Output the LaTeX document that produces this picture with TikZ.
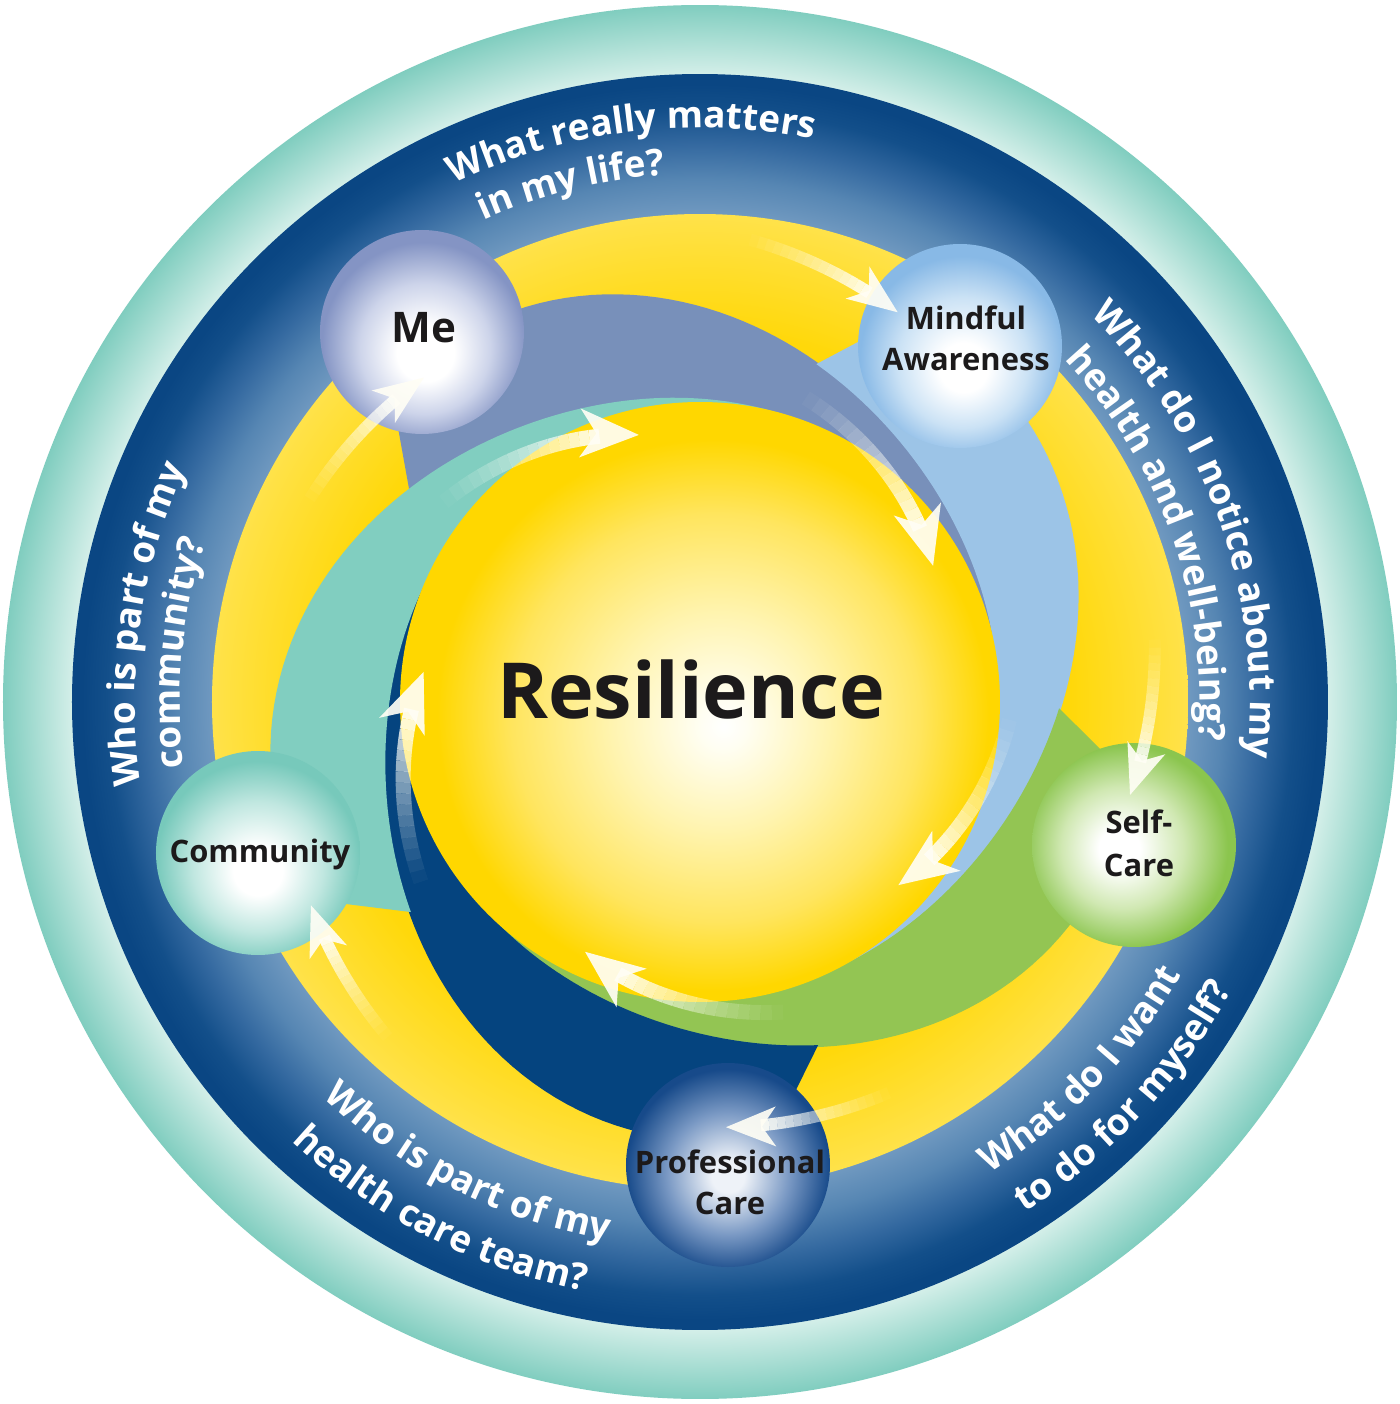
\documentclass[tikz,border=0pt]{standalone}
\usepackage{fontspec}
\setmainfont{Open Sans}
\usetikzlibrary{calc,decorations.text}

\definecolor{tealdk}{HTML}{80CDBF}
\definecolor{tealpale}{HTML}{D4EFE9}
\definecolor{nvA}{HTML}{7099C0}
\definecolor{nvB}{HTML}{5686B3}
\definecolor{nvC}{HTML}{3469A0}
\definecolor{nvE}{HTML}{134F8A}
\definecolor{nvD}{HTML}{0A4683}
\definecolor{yA}{HTML}{FFD80A}
\definecolor{yB}{HTML}{FFE24A}
\definecolor{sA}{HTML}{FFFEF2}
\definecolor{sB}{HTML}{FFF4B0}
\definecolor{sC}{HTML}{FFE55E}
\definecolor{sD}{HTML}{FFD700}
\definecolor{bandgrey}{HTML}{7890BA}
\definecolor{bandlight}{HTML}{9CC4E7}
\definecolor{bandgreen}{HTML}{93C553}
\definecolor{bandnavy}{HTML}{05447F}
\definecolor{bandteal}{HTML}{81CEC0}
\definecolor{meB}{HTML}{CDD4EA}
\definecolor{meC}{HTML}{8494C4}
\definecolor{mfB}{HTML}{CBE2F5}
\definecolor{mfC}{HTML}{88B9E6}
\definecolor{scB}{HTML}{D0E8B2}
\definecolor{scC}{HTML}{8BC54E}
\definecolor{pcA}{HTML}{EEF2F8}
\definecolor{pcB}{HTML}{7A99C4}
\definecolor{pcC}{HTML}{174A8A}
\definecolor{cmB}{HTML}{C0E7E0}
\definecolor{cmC}{HTML}{77C9BB}
\definecolor{ink}{HTML}{1C1A1B}

\pgfdeclareradialshading{shTeal}{\pgfpoint{0bp}{0bp}}{color(0bp)=(tealpale); color(22.5bp)=(tealpale); color(25bp)=(tealdk); color(50bp)=(tealdk)}
\pgfdeclareradialshading{shNavy}{\pgfpoint{0bp}{0bp}}{color(0bp)=(nvA); color(19.4bp)=(nvA); color(20.8bp)=(nvB); color(22.2bp)=(nvC); color(23.6bp)=(nvE); color(24.6bp)=(nvD); color(50bp)=(nvD)}
\pgfdeclareradialshading{shYel}{\pgfpoint{0bp}{0bp}}{color(0bp)=(yA); color(19bp)=(yA); color(25bp)=(yB); color(50bp)=(yB)}
\pgfdeclareradialshading{shSph}{\pgfpoint{2bp}{-2bp}}{color(0bp)=(white); color(2bp)=(sA); color(9bp)=(sB); color(17bp)=(sC); color(23bp)=(sD); color(50bp)=(sD)}
\pgfdeclareradialshading{shMe}{\pgfpoint{1bp}{-6bp}}{color(0bp)=(white); color(7bp)=(white); color(16bp)=(meB); color(25bp)=(meC); color(50bp)=(meC)}
\pgfdeclareradialshading{shMf}{\pgfpoint{1bp}{-6bp}}{color(0bp)=(white); color(6bp)=(white); color(16bp)=(mfB); color(25bp)=(mfC); color(50bp)=(mfC)}
\pgfdeclareradialshading{shSc}{\pgfpoint{-4bp}{-1bp}}{color(0bp)=(white); color(5bp)=(white); color(15bp)=(scB); color(25bp)=(scC); color(50bp)=(scC)}
\pgfdeclareradialshading{shPc}{\pgfpoint{0bp}{-3bp}}{color(0bp)=(pcA); color(4bp)=(pcA); color(15bp)=(pcB); color(25bp)=(pcC); color(50bp)=(pcC)}
\pgfdeclareradialshading{shCm}{\pgfpoint{0bp}{-5bp}}{color(0bp)=(white); color(6bp)=(white); color(16bp)=(cmB); color(25bp)=(cmC); color(50bp)=(cmC)}

\newcommand\curvefont{\fontsize{10.5}{12}\selectfont\bfseries}
\newcommand\labelfont{\fontsize{8.8}{11}\selectfont\bfseries}
\newcommand\mefont{\fontsize{12}{14}\selectfont\bfseries}
\newcommand\resfont{\fontsize{22}{26}\selectfont\bfseries}

% swirl band: colour, node angle, angle to previous node
\newcommand\swirlband[3]{%
  \fill[#1] plot[domain=-8:132, samples=80, variable=\t] ({#2-(\t)}:{bandr(\t)})
    -- plot[domain=132:-17, samples=80, variable=\t] ({#2-(\t)}:{bandr(\t+#3)-2}) -- cycle;}

% fading flow arrow: th1, r1, th2, r2, line width (mm), head length (mm), head width (mm)
\newcommand\flowarrow[7]{%
  \pgfmathsetmacro\fa{(#2)*cos(#1)-(#4)*cos(#3)}%
  \pgfmathsetmacro\fb{(#2)*sin(#1)-(#4)*sin(#3)}%
  \pgfmathsetmacro\flen{veclen(\fa,\fb)}%
  \pgfmathsetmacro\fend{1-7*(#6)/\flen}%
  \foreach \i in {0,...,15}{%
    \pgfmathsetmacro\ua{\fend*\i/16}%
    \pgfmathsetmacro\ub{\fend*(\i+1)/16}%
    \pgfmathsetmacro\op{0.92*((\i+1)/16)^1.2}%
    \draw[white!97!yellow, line width=#5mm, draw opacity=\op]
      ({(#1)+((#3)-(#1))*\ua}:{(#2)+((#4)-(#2))*\ua}) -- ({(#1)+((#3)-(#1))*\ub}:{(#2)+((#4)-(#2))*\ub});
  }%
  \pgfmathsetmacro\ta{(#1)+((#3)-(#1))*0.98}%
  \pgfmathsetmacro\ra{(#2)+((#4)-(#2))*0.98}%
  \pgfmathsetmacro\hw{(#7)/2}%
  \pgfmathsetmacro\hn{0.72*(#6)}%
  \coordinate (tipT) at (#3:#4);
  \coordinate (tipP) at (\ta:\ra);
  \coordinate (tipB) at ($(tipT)!#6mm!(tipP)$);
  \coordinate (tipN) at ($(tipT)!\hn mm!(tipP)$);
  \fill[white!96!yellow, fill opacity=0.92] (tipT) -- ($(tipB)!\hw mm!90:(tipT)$) -- (tipN) -- ($(tipB)!\hw mm!-90:(tipT)$) -- cycle;
}

% curved questions: centre angle, baseline radius (px), text
\newcommand\cwtext[3]{%
  \path[decorate, decoration={text along path, text={|\curvefont|#3}, text align=center, text color=white}]
    ({#1+70}:#2) arc[start angle={#1+70}, end angle={#1-70}, radius={#2*0.1mm}];}
\newcommand\ccwtext[3]{%
  \path[decorate, decoration={text along path, text={|\curvefont|#3}, text align=center, text color=white}]
    ({#1-70}:#2) arc[start angle={#1-70}, end angle={#1+70}, radius={#2*0.1mm}];}

\begin{document}
\begin{tikzpicture}[x=0.1mm, y=0.1mm,
  declare function={bandr(\x)=297+141*exp(0-(\x/62)*(\x/62));},
  lbl/.style={text=ink, inner sep=0pt, anchor=base, font=\labelfont},
  ball/.style={circle, minimum size=20.4mm, inner sep=0pt, shade}]
\useasboundingbox (-700,-702) rectangle (700,702);
\fill[white] (-700,-702) rectangle (700,702);

% rings
\shade[shading=shTeal] (0,0) circle[radius=69.7mm];
\shade[shading=shNavy] (0,0) circle[radius=62.8mm];
\shade[shading=shYel] (0,0) circle[radius=48.8mm];

% swirl bands
\swirlband{bandgrey}{127}{72}
\swirlband{bandlight}{54}{73}
\swirlband{bandgreen}{-18}{72}
\swirlband{bandnavy}{-88}{70}
\swirlband{bandteal}{-161}{73}

% central sphere
\shade[shading=shSph] (0,0) circle[radius=30mm];
\node[lbl, font=\resfont] (res) at (-9,-16) {Resilience};

% questions
\cwtext{97}{574}{What really matters}
\cwtext{104}{528}{in my life?}
\cwtext{19.5}{550}{What do I notice about my}
\cwtext{19.4}{500}{health and well-being?}
\cwtext{172}{565}{Who is part of my}
\cwtext{174.6}{520}{community?}
\ccwtext{-44}{553}{What do I want}
\ccwtext{-43}{605}{to do for myself?}
\ccwtext{-116.7}{546}{Who is part of my}
\ccwtext{-117}{600}{health care team?}

% nodes
\node[ball, shading=shMe] (me) at (-278,370) {};
\node[ball, shading=shMf] (mind) at (260,356) {};
\node[ball, shading=shSc] (self) at (434,-143) {};
\node[ball, shading=shPc] (prof) at (28,-463) {};
\node[ball, shading=shCm] (comm) at (-442,-151) {};

\node[lbl, font=\mefont] (lme) at (-276,359) {Me};
\node[lbl] (lmind1) at (266,372) {Mindful};
\node[lbl] (lmind2) at (266,331) {Awareness};
\node[lbl] (lself1) at (439,-131) {Self-};
\node[lbl] (lself2) at (439,-174) {Care};
\node[lbl] (lprof1) at (30,-471) {Professional};
\node[lbl] (lprof2) at (30,-512) {Care};
\node[lbl] (lcomm) at (-440,-160) {Community};

% flow arrows
\flowarrow{83.8}{465}{63.1}{437}{1.2}{5}{4}
\flowarrow{70.8}{322}{30.3}{270}{1.5}{5.9}{4.9}
\flowarrow{7.8}{459}{-12.2}{440}{1.2}{5}{4}
\flowarrow{-3.3}{310}{-42.7}{270}{1.5}{5.9}{4.9}
\flowarrow{-75}{321}{-114.7}{275}{1.5}{5.9}{4.9}
\flowarrow{-64.2}{434}{-86.5}{426}{1.2}{5}{4}
\flowarrow{-133}{458}{-152.4}{439}{1.2}{5}{4}
\flowarrow{-147.2}{332}{-186.2}{278}{1.5}{5.9}{4.9}
\flowarrow{152.5}{440}{130.4}{426}{1.2}{5}{4}
\flowarrow{142}{325}{102.9}{274}{1.5}{5.9}{4.9}
\end{tikzpicture}
\end{document}
